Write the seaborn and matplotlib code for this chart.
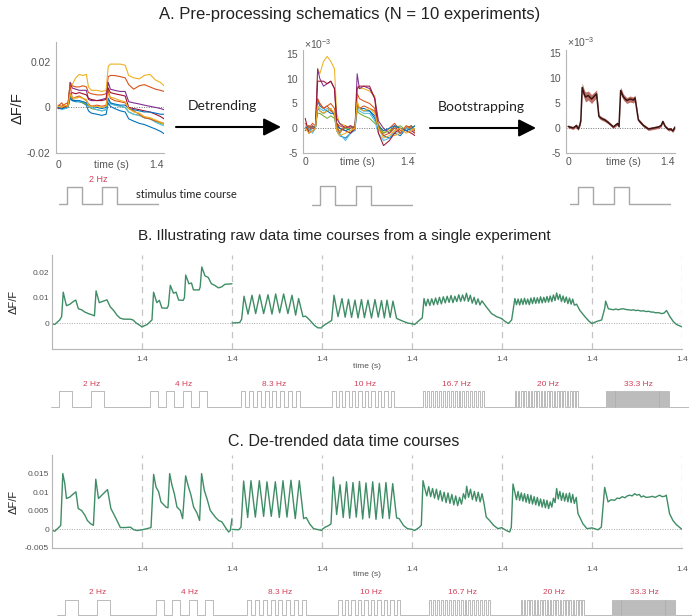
import numpy as np
import matplotlib
matplotlib.use("Agg")
import matplotlib.pyplot as plt
import seaborn as sns

sns.set_theme(style="white")
plt.rcParams['font.family'] = ['Liberation Sans', 'DejaVu Sans']
plt.rcParams['mathtext.fontset'] = 'custom'
plt.rcParams['mathtext.rm'] = 'Liberation Sans'

# ------------------------------------------------------------------ DATA
# Panel A: common time grid (s) and 10 experiments (values x 1e-3)
tA = [0, .05, .10, .14, .17, .20, .25, .30, .35, .40, .43, .47, .55, .62, .68,
      .71, .74, .80, .88, .95, 1.0, 1.07, 1.15, 1.22, 1.30, 1.38, 1.45, 1.50]

raw_blue1 = [-0.5, 0, -0.5, 0, 5, 3, 2.5, 2.5, 2, 1, -1.5, -2.5, -3, -3.5, -3, 2, 0.5, -0.5, -1.5, -2, -5, -6, -7, -7.5, -8.5, -9.5, -10.5, -11.5]
raw_orange1 = [1, 0.5, 1.5, 2, 9, 9.5, 9, 9, 9.5, 9, 6.5, 6, 5.5, 5.5, 6, 13.5, 14, 14, 13.5, 13, 10, 8, 9.5, 10, 9, 8, 7.5, 7]
raw_yellow1 = [0, -0.5, 0.5, 1, 11, 10, 13, 14.5, 14, 14.5, 9, 7.5, 7.5, 7, 7.5, 18, 19, 19, 19, 18.5, 14, 13, 12.5, 14, 14.5, 12, 11, 9.5]
raw_purple = [0, -0.5, 0, 0.5, 11, 8.5, 8, 7.5, 7.5, 7.5, 3.5, 3, 3, 3.5, 4, 11, 8, 7.5, 7, 7, 2.5, 2, 1.5, 1, 0.5, 0, -0.5, -1]
raw_green = [-0.5, -0.5, 0, 0, 5, 3.5, 3, 2.5, 2, 1.5, 0.5, -0.5, -1, -1.5, -1, 4, 2, 1, 0.5, 0, -2, -3, -3.5, -4.5, -5, -6, -7, -7.5]
raw_lightblue = [0, -1, -0.5, 0, 4, 3, 3, 2.5, 2.5, 2, 0.5, 0, -1, -1.5, -1, 3.5, 1.5, 1, 0.5, 0, -2, -3, -3.5, -4.5, -5, -6.5, -7.5, -8]
raw_darkred = [-0.5, 0, 0.5, 0.5, 6, 6.5, 6, 6.5, 6, 5.5, 4, 3.5, 3, 3, 3.5, 8.5, 6.5, 6, 5.5, 5, 0, -0.5, -1, -1.5, -2, -3, -4, -5]
raw_blue2 = [0, -0.5, 0, 0.5, 4, 3, 3, 3, 2.5, 2, 1, 0.5, 0, -0.5, 0, 4, 2, 1.5, 1, 1, -0.5, -1, -1.5, -2, -2, -2.5, -3, -3]
raw_orange2 = [0.5, 2, 0, 1, 10, 4, 4.5, 5, 4, 3, 1.5, 0.5, 1, 0.5, 1, 7.5, 4, 3, 2.5, 2, -0.5, -1.5, -3, -4.5, -5, -6, -6.5, -7]
raw_yellow2 = [0.5, 0, 1, 0.5, 6, 4.5, 4, 4.5, 4, 3.5, 1, 0.5, 0.5, 0, 0.5, 6, 4.5, 4, 3, 2.5, -0.5, -2, -2.5, -4, -4.5, -5.5, -6.5, -7.5]

det_blue1 = [0, -0.5, 0, 0.5, 5.5, 4.5, 4, 3.5, 4, 2.5, -0.5, -1.5, -2, -1, 0, 5, 4, 3.5, 3.5, 2, 0, -1.5, -2, -1, -1.5, 0, 0.5, -0.5]
det_orange1 = [1, 0, 1, 0.5, 6, 5, 4, 4.5, 5, 4, 1, 0.5, 0, 0.5, -0.5, 7, 6, 5.5, 5, 4, 0.5, -1, 0, 1, -0.5, 0, 0.5, -0.5]
det_yellow1 = [0.5, -1, 0.5, 0, 12, 11, 13.5, 14.5, 13.5, 12, 3, 1, 0.5, -0.5, 0, 8.5, 8, 8, 7.5, 6.5, 1, -1, 0, -1.5, -1, 0.5, -0.5, 0]
det_purple = [0, -0.5, 0.5, 0, 12, 10, 8.5, 9, 9.5, 8, 2, 1, 0, 0.5, 0, 11, 8, 8.5, 8, 6, 1.5, 0, -1, 0.5, -1, 0, -0.5, -1]
det_green = [0, -0.5, 0, 0.5, 3, 3, 2.5, 2, 2.5, 2, 0, -0.5, 0, -0.5, 0, 3.5, 3, 2.5, 2, 1, 0.5, -1, -0.5, 0, 0.5, -0.5, 0, 0.5]
det_lightblue = [-0.5, 0, -1, 0, 4.5, 4, 3.5, 4, 3.5, 3, 0, -1, -2.5, -1, -0.5, 4, 3.5, 3, 3, 1.5, -1, -2.5, -2, -0.5, -1, 0, -0.5, 0]
det_darkred = [2, -1, -0.5, 0, 9.5, 9.5, 9.5, 9, 9.5, 8, 1, 0, -0.5, -1, 0, 8, 8.5, 8.5, 8.5, 6, -1, -3.5, -2.5, -1, 0, -0.5, -1, -1.5]
det_blue2 = [0, 0.5, 0, 0, 4, 3.5, 3, 3.5, 3, 3, 0.5, 0, -0.5, 0, 0.5, 4.5, 4, 4, 3.5, 2.5, 0.5, -0.5, 0, 0.5, 0, -0.5, 0, 0.5]
det_orange2 = [-0.5, 0.5, 0, 0, 5.5, 5, 4, 4.5, 3.5, 3, 0.5, -1, 0.5, 0, 0.5, 5, 4, 4.5, 4, 3.5, 0, -1.5, -1, 0, -1, 0.5, 0, -1]
det_yellow2 = [0, -1, -0.5, 0, 4.5, 3.5, 3, 3.5, 4, 3, -0.5, -1.5, -1, -0.5, 0, 5.5, 4, 3.5, 4, 3, 0, -2, -1.5, -0.5, 0, -1, -0.5, 0]

exp_colors = ['#0072BD', '#D95319', '#EDB120', '#7E2F8E', '#77AC30',
              '#4DBEEE', '#A2142F', '#0072BD', '#D95319', '#EDB120']

# bootstrap mean (x 1e-3) and half-width of band
boot_t = [0, 0.07, 0.117, 0.141, 0.164, 0.178, 0.197, 0.225, 0.244, 0.282,
          0.329, 0.376, 0.399, 0.432, 0.47, 0.517, 0.564, 0.611, 0.634, 0.667,
          0.695, 0.714, 0.737, 0.775, 0.822, 0.869, 0.916, 0.939, 0.986, 1.057,
          1.127, 1.198, 1.268, 1.306, 1.329, 1.362, 1.409, 1.44, 1.47, 1.5]
boot_mean = [0.3, 0, 0.5, -0.2, 0.6, 1.5, 8.1, 6.8, 6.2, 6.5,
             5.8, 6.5, 6.8, 2.3, 1.9, 1.6, 1.1, 0.5, 0.2, 0.6,
             0.9, 0.3, 7.5, 6.2, 5.5, 5.8, 5.6, 6.0, 1.6, 0.5,
             -0.2, 0, 0.2, 0.5, 1.3, 0.3, -0.3, -0.2, -0.6, 0.2]
boot_ci = [0.3, 0.3, 0.3, 0.3, 0.3, 0.4, 0.9, 0.9, 1.0, 0.9,
           0.9, 0.8, 0.8, 0.4, 0.35, 0.35, 0.3, 0.3, 0.3, 0.3,
           0.3, 0.35, 0.7, 0.6, 0.6, 0.6, 0.6, 0.6, 0.35, 0.3,
           0.3, 0.3, 0.3, 0.3, 0.3, 0.3, 0.3, 0.3, 0.3, 0.3]

# Panel B: raw time courses per stimulus frequency (t in s, value x 1e-3)
raw_2hz_t = [0, 0.04, 0.12, 0.15, 0.175, 0.2, 0.225, 0.28, 0.34, 0.37, 0.41, 0.46, 0.51, 0.565, 0.635, 0.66, 0.686, 0.735, 0.8, 0.855, 0.905, 0.96, 1.01, 1.06, 1.12, 1.22, 1.26, 1.31, 1.37, 1.4]
raw_2hz_v = [-0.2, -0.6, 1.2, 2.5, 12.1, 9.3, 6.8, 7.4, 8.6, 9.0, 5.6, 5.2, 4.3, 3.7, 3.1, 2.8, 12.6, 8.0, 8.6, 9.1, 6.4, 4.9, 3.1, 1.9, 1.5, 1.5, 1.2, 0.0, -1.0, -1.5]
raw_4hz_t = [0, 0.08, 0.13, 0.155, 0.18, 0.23, 0.27, 0.31, 0.39, 0.41, 0.44, 0.49, 0.53, 0.57, 0.64, 0.66, 0.68, 0.73, 0.77, 0.8, 0.89, 0.905, 0.93, 0.98, 1.03, 1.08, 1.13, 1.19, 1.24, 1.29, 1.4]
raw_4hz_v = [-1.5, -0.6, 0.6, 1.2, 12.1, 8.0, 8.9, 5.9, 5.8, 6.8, 14.8, 11.7, 12.1, 9.0, 8.9, 9.9, 18.8, 15.4, 15.7, 13.0, 13.0, 14.2, 22.0, 18.5, 17.9, 15.4, 14.8, 13.8, 14.2, 15.2, 15.4]
raw_8hz_t = [0, 0.12, 0.15, 0.187, 0.249, 0.311, 0.368, 0.43, 0.492, 0.56, 0.622, 0.679, 0.741, 0.803, 0.87, 0.933, 0.99, 1.036, 1.104, 1.145, 1.207, 1.285, 1.337, 1.4]
raw_8hz_v = [0.0, 0.2, 1.5, 10.5, 3.5, 10.9, 3.7, 11.1, 3.7, 11.1, 3.5, 11.4, 4.0, 11.4, 3.7, 10.9, 3.1, 9.6, 2.5, 2.7, 1.2, -1.0, -1.9, -1.9]
raw_10hz_t = [0, 0.05, 0.1, 0.15, 0.187, 0.249, 0.311, 0.36, 0.412, 0.46, 0.513, 0.56, 0.614, 0.66, 0.715, 0.77, 0.824, 0.875, 0.925, 0.97, 1.011, 1.06, 1.104, 1.16, 1.25, 1.33, 1.4]
raw_10hz_v = [-1.5, -0.6, 0.2, 1.0, 10.9, 2.5, 9.6, 2.3, 9.3, 2.2, 9.0, 2.0, 9.2, 2.1, 9.0, 2.0, 9.2, 2.3, 8.8, 2.0, 9.0, 2.2, 8.6, 1.8, 0.8, 0.0, -0.3]
raw_17hz_t = [0, 0.04, 0.12, 0.16, 0.187, 0.217, 0.247, 0.277, 0.307, 0.337, 0.367, 0.397, 0.427, 0.457, 0.487, 0.517, 0.547, 0.577, 0.607, 0.637, 0.667, 0.697, 0.727, 0.757, 0.787, 0.817, 0.847, 0.877, 0.907, 0.937, 0.967, 0.997, 1.027, 1.057, 1.087, 1.16, 1.238, 1.316, 1.4]
raw_17hz_v = [-0.2, -0.6, 1.2, 2.0, 9.6, 6.7, 9.4, 6.9, 9.5, 7.1, 9.8, 7.3, 10.1, 7.5, 10.3, 7.9, 10.5, 8.1, 10.8, 8.0, 10.5, 8.4, 11.1, 8.5, 11.0, 8.7, 11.7, 8.5, 10.9, 7.8, 10.1, 7.3, 9.5, 7.1, 8.7, 6.2, 3.7, 2.5, 1.7]
raw_20hz_t = [0, 0.05, 0.1, 0.15, 0.2, 0.225, 0.25, 0.275, 0.3, 0.325, 0.35, 0.375, 0.4, 0.425, 0.45, 0.475, 0.5, 0.525, 0.55, 0.575, 0.6, 0.625, 0.65, 0.675, 0.7, 0.725, 0.75, 0.775, 0.8, 0.825, 0.85, 0.875, 0.9, 0.925, 0.95, 0.975, 1.0, 1.025, 1.05, 1.075, 1.1, 1.125, 1.16, 1.212, 1.29, 1.358, 1.4]
raw_20hz_v = [1.6, 0.6, -0.2, 1.2, 9.6, 7.2, 9.4, 7.1, 9.5, 7.3, 9.7, 7.4, 9.4, 7.2, 9.8, 7.6, 10.0, 7.7, 9.9, 7.8, 10.3, 7.9, 10.1, 8.1, 10.4, 8.2, 10.6, 8.4, 11.0, 8.8, 11.8, 9.2, 11.2, 8.4, 10.6, 8.1, 10.2, 7.6, 9.8, 7.4, 9.4, 7.0, 7.4, 4.9, 2.5, 0.6, -0.2]
raw_33hz_t = [0, 0.073, 0.15, 0.2, 0.212, 0.254, 0.29, 0.332, 0.37, 0.41, 0.45, 0.487, 0.53, 0.57, 0.61, 0.642, 0.68, 0.72, 0.76, 0.8, 0.84, 0.88, 0.92, 0.953, 0.99, 1.03, 1.083, 1.12, 1.16, 1.212, 1.264, 1.316, 1.4]
raw_33hz_v = [-0.2, 0.6, 1.2, 6.0, 8.6, 5.6, 5.4, 5.2, 5.5, 5.2, 5.5, 5.6, 5.3, 5.2, 5.0, 5.2, 4.9, 5.0, 4.7, 4.8, 4.5, 4.6, 4.3, 4.3, 4.0, 4.1, 3.7, 3.9, 4.9, 2.5, 0.6, -0.6, -1.5]

# Panel C: de-trended time courses (t in s, value x 1e-3)
det_2hz_t = [0, 0.016, 0.042, 0.11, 0.136, 0.168, 0.199, 0.225, 0.277, 0.33, 0.372, 0.408, 0.46, 0.513, 0.55, 0.602, 0.644, 0.681, 0.723, 0.775, 0.827, 0.864, 0.916, 0.958, 1.01, 1.063, 1.141, 1.22, 1.272, 1.325, 1.4]
det_2hz_v = [0, -0.3, -0.5, 0.6, 1.1, 15.0, 12.3, 8.3, 8.7, 9.5, 10.1, 5.6, 5.1, 3.8, 2.4, 1.5, 1.1, 13.5, 8.3, 9.2, 10.1, 10.7, 5.6, 4.2, 2.4, 0.5, 0.5, 0.6, -0.1, -0.3, -0.1]
det_4hz_t = [0, 0.078, 0.14, 0.181, 0.218, 0.259, 0.295, 0.373, 0.404, 0.43, 0.466, 0.503, 0.544, 0.596, 0.632, 0.679, 0.715, 0.762, 0.803, 0.855, 0.896, 0.927, 0.969, 1.01, 1.062, 1.14, 1.192, 1.244, 1.295, 1.347, 1.373, 1.4]
det_4hz_v = [-0.1, 0.2, 0.5, 14.8, 11.4, 10.1, 7.4, 6.0, 5.8, 15.0, 11.9, 9.6, 6.0, 5.1, 2.9, 14.4, 11.9, 9.2, 6.0, 4.4, 2.4, 15.0, 10.5, 8.3, 5.1, 3.3, 2.4, 2.0, 0.6, -0.7, -0.3, 2.9]
det_8hz_t = [0, 0.104, 0.14, 0.181, 0.244, 0.295, 0.363, 0.425, 0.492, 0.544, 0.611, 0.674, 0.736, 0.793, 0.855, 0.917, 0.984, 1.047, 1.114, 1.155, 1.207, 1.269, 1.347, 1.4]
det_8hz_v = [0, -0.1, 0.6, 13.0, 3.2, 13.1, 3.3, 13.1, 3.5, 12.8, 3.5, 12.8, 3.2, 13.1, 3.3, 13.2, 2.9, 13.1, 2.9, 3.2, 1.5, 0.2, -0.1, -0.3]
det_10hz_t = [0, 0.05, 0.1, 0.14, 0.176, 0.228, 0.28, 0.33, 0.381, 0.43, 0.482, 0.533, 0.583, 0.633, 0.684, 0.737, 0.789, 0.84, 0.892, 0.943, 0.995, 1.047, 1.1, 1.16, 1.2, 1.27, 1.33, 1.4]
det_10hz_v = [0.0, 0.6, 1.0, 1.5, 14.1, 4.0, 12.0, 3.2, 12.8, 3.0, 12.6, 3.3, 12.9, 2.8, 12.5, 3.1, 12.8, 2.7, 12.4, 3.0, 12.6, 2.9, 12.3, 3.1, 2.9, 1.0, 0.2, 0.0]
det_17hz_t = [0, 0.04, 0.11, 0.145, 0.171, 0.2, 0.23, 0.26, 0.29, 0.32, 0.35, 0.38, 0.41, 0.44, 0.47, 0.5, 0.53, 0.56, 0.59, 0.62, 0.65, 0.68, 0.71, 0.74, 0.77, 0.8, 0.83, 0.85, 0.88, 0.91, 0.94, 0.97, 1.0, 1.03, 1.06, 1.09, 1.12, 1.155, 1.207, 1.269, 1.337, 1.4]
det_17hz_v = [0, -0.3, 0.5, 1.1, 13.1, 11.0, 9.0, 11.5, 8.8, 11.0, 8.4, 10.8, 8.0, 10.4, 7.6, 10.0, 7.2, 9.8, 7.0, 9.4, 6.6, 9.0, 6.4, 8.6, 6.8, 9.6, 8.2, 11.6, 8.6, 10.8, 8.0, 10.2, 7.6, 10.0, 7.4, 9.6, 7.0, 3.3, 2.4, 1.1, 0.2, 0.5]
det_20hz_t = [0, 0.067, 0.119, 0.145, 0.171, 0.2, 0.225, 0.25, 0.275, 0.3, 0.325, 0.35, 0.375, 0.4, 0.425, 0.45, 0.475, 0.5, 0.525, 0.55, 0.575, 0.6, 0.625, 0.65, 0.675, 0.7, 0.725, 0.75, 0.775, 0.8, 0.825, 0.85, 0.875, 0.9, 0.925, 0.95, 0.975, 1.0, 1.025, 1.05, 1.075, 1.1, 1.125, 1.155, 1.181, 1.259, 1.321, 1.4]
det_20hz_v = [0.4, -0.3, -0.7, 0.6, 12.2, 10.0, 8.0, 10.2, 7.8, 9.8, 7.6, 9.6, 7.3, 9.4, 7.0, 9.2, 6.8, 8.8, 6.6, 8.6, 6.3, 8.2, 6.0, 8.0, 5.8, 7.8, 5.6, 7.4, 6.0, 8.4, 7.2, 11.0, 8.2, 10.2, 7.8, 9.8, 7.6, 9.6, 7.4, 9.8, 7.2, 9.4, 7.0, 8.6, 4.3, 1.5, 0.2, 0.4]
det_33hz_t = [0, 0.093, 0.145, 0.197, 0.249, 0.3, 0.35, 0.39, 0.43, 0.47, 0.51, 0.55, 0.585, 0.625, 0.663, 0.7, 0.735, 0.767, 0.8, 0.84, 0.896, 0.94, 0.98, 1.052, 1.09, 1.13, 1.155, 1.207, 1.259, 1.311, 1.4]
det_33hz_v = [0.4, -0.1, 0.6, 11.3, 7.4, 8.0, 7.8, 8.4, 8.3, 8.8, 8.5, 9.0, 9.2, 9.0, 9.6, 9.2, 9.4, 8.7, 9.0, 8.6, 8.7, 8.9, 8.6, 9.2, 8.8, 8.9, 9.2, 4.2, 2.4, 1.3, 0.0]

# Stimulus schematics
stim_labels = ['2 Hz', '4 Hz', '8.3 Hz', '10 Hz', '16.7 Hz', '20 Hz', '33.3 Hz']
stim_freq_hz = [2, 4, 8.3, 10, 16.7, 20, 33.3]
stim_n_pulses = [2, 4, 8, 10, 16, 20, 33]
stim_width_s = [0.2, 0.125, 0.06, 0.05, 0.03, 0.025, 0.015]
stim_onset_s = 0.12
seg_len_s = 1.4

# ------------------------------------------------------------------ FIGURE
W, H = 692, 616
fig = plt.figure(figsize=(W / 100, H / 100), dpi=100)
fig.patch.set_facecolor('white')

GREEN = '#3f8d66'
GRAY = '#a8a8a8'
TICKC = '#555555'
RED = '#d2405a'


def px_axes(x0, y0, x1, y1):
    ax = fig.add_axes([x0 / W, 1 - y1 / H, (x1 - x0) / W, (y1 - y0) / H])
    ax.set_facecolor('none')
    return ax


def line(ax, t, v, color, lw=1.0, scale=1.0, offset=0.0, zorder=2):
    n = min(len(t), len(v))
    sns.lineplot(x=np.asarray(t[:n], float) + offset,
                 y=np.asarray(v[:n], float) * scale, ax=ax, color=color,
                 linewidth=lw, estimator=None, sort=False, legend=False,
                 errorbar=None, zorder=zorder)


def style(ax, labelsize):
    for s in ['top', 'right']:
        ax.spines[s].set_visible(False)
    for s in ['left', 'bottom']:
        ax.spines[s].set_color('#b5b5b5')
        ax.spines[s].set_linewidth(0.8)
    ax.tick_params(axis='both', direction='in', length=2.5, width=0.6,
                   color='#b5b5b5', labelcolor=TICKC, labelsize=labelsize)
    ax.set_xlabel('')
    ax.set_ylabel('')


def stim_xy(idx, seg_len, onset, widths):
    xs, ys = [0.0], [0.0]
    for j, i in enumerate(idx):
        base = j * seg_len
        for k in range(stim_n_pulses[i]):
            on = base + onset + k / stim_freq_hz[i]
            off = on + widths[i]
            xs += [on, on, off, off]
            ys += [0, 1, 1, 0]
    xs.append(len(idx) * seg_len)
    ys.append(0)
    return xs, ys


# ---------------- Panel A
raw_all = [raw_blue1, raw_orange1, raw_yellow1, raw_purple, raw_green,
           raw_lightblue, raw_darkred, raw_blue2, raw_orange2, raw_yellow2]
det_all = [det_blue1, det_orange1, det_yellow1, det_purple, det_green,
           det_lightblue, det_darkred, det_blue2, det_orange2, det_yellow2]

axA1 = px_axes(56, 42, 164, 153)
for c, v in zip(exp_colors, raw_all):
    line(axA1, tA, v, c, lw=0.8, scale=1e-3)
axA1.axhline(0, color='#777777', ls=(0, (1, 1.5)), lw=0.7, zorder=1)
axA1.set_xlim(-0.03, 1.5)
axA1.set_ylim(-0.02, 0.0287)
style(axA1, 7.5)
axA1.set_yticks([-0.02, 0, 0.02], ['-0.02', '0', '0.02'])
axA1.set_xticks([0, 1.4], ['0', '1.4'])
axA1.tick_params(axis='x', length=0, pad=5)
axA1.tick_params(axis='y', pad=4)

axA2 = px_axes(303, 50, 415, 153)
for c, v in zip(exp_colors, det_all):
    line(axA2, tA, v, c, lw=0.75)
axA2.axhline(0, color='#777777', ls=(0, (1, 1.5)), lw=0.7, zorder=1)
axA2.set_xlim(-0.03, 1.5)
axA2.set_ylim(-5, 15.8)
style(axA2, 7.5)
axA2.set_yticks([-5, 0, 5, 10, 15], ['-5', '0', '5', '10', '15'])
axA2.set_xticks([0, 1.4], ['0', '1.4'])
axA2.tick_params(axis='x', length=0, pad=3)
axA2.tick_params(axis='y', pad=4)

axA3 = px_axes(566, 50, 675, 153)
lo = [m - c for m, c in zip(boot_mean, boot_ci)]
hi = [m + c for m, c in zip(boot_mean, boot_ci)]
axA3.fill_between(boot_t, lo, hi, color='#b4574f', alpha=0.85, lw=0, zorder=2)
line(axA3, boot_t, boot_mean, '#3a1412', lw=1.1, zorder=3)
axA3.axhline(0, color='#777777', ls=(0, (1, 1.5)), lw=0.7, zorder=1)
axA3.set_xlim(-0.03, 1.5)
axA3.set_ylim(-5, 15.6)
style(axA3, 7.5)
axA3.set_yticks([-5, 0, 5, 10, 15], ['-5', '0', '5', '10', '15'])
axA3.set_xticks([0, 1.4], ['0', '1.4'])
axA3.tick_params(axis='x', length=0, pad=3)
axA3.tick_params(axis='y', pad=4)

# A stimulus rows (2 Hz, one segment of 1.43 s)
A_stim_w = [0.21, 0.125, 0.06, 0.05, 0.03, 0.025, 0.015]
for (x0, x1, yb, yt) in [(59, 159, 204, 187), (312, 413, 205, 186), (570, 671, 204, 187)]:
    u = yb - yt
    ax = px_axes(x0, yt - 2, x1, yb + 2)
    xs, ys = stim_xy([0], 1.43, stim_onset_s, A_stim_w)
    line(ax, xs, ys, GRAY, lw=1.0)
    ax.set_xlim(0, 1.43)
    ax.set_ylim(-2 / u, 1 + 2 / u)
    ax.axis('off')

# ---------------- Panels B and C
raw_t = [raw_2hz_t, raw_4hz_t, raw_8hz_t, raw_10hz_t, raw_17hz_t, raw_20hz_t, raw_33hz_t]
raw_v = [raw_2hz_v, raw_4hz_v, raw_8hz_v, raw_10hz_v, raw_17hz_v, raw_20hz_v, raw_33hz_v]
det_t = [det_2hz_t, det_4hz_t, det_8hz_t, det_10hz_t, det_17hz_t, det_20hz_t, det_33hz_t]
det_v = [det_2hz_v, det_4hz_v, det_8hz_v, det_10hz_v, det_17hz_v, det_20hz_v, det_33hz_v]

bounds = [seg_len_s * k for k in range(1, 8)]


def long_panel(box, ts, vs, ylim, yticks, ylabels, xpad):
    ax = px_axes(*box)
    for i, (t, v) in enumerate(zip(ts, vs)):
        line(ax, t, v, GREEN, lw=1.0, scale=1e-3, offset=seg_len_s * i)
    ax.axhline(0, color='#aaaaaa', ls=(0, (1, 1.5)), lw=0.7, zorder=1)
    for b in bounds:
        ax.axvline(b, color='#c4c4c4', ls=(0, (5, 4)), lw=0.9, zorder=1)
    ax.set_xlim(0, 7 * seg_len_s)
    ax.set_ylim(*ylim)
    style(ax, 6)
    ax.set_yticks(yticks, ylabels)
    ax.set_xticks(bounds, ['1.4'] * 7)
    ax.tick_params(axis='x', length=0, pad=xpad)
    ax.tick_params(axis='y', pad=2)
    return ax


axB = long_panel((52, 255, 682, 349), raw_t, raw_v, (-0.0102, 0.0267),
                 [0, 0.01, 0.02], ['0', '0.01', '0.02'], 5)
axC = long_panel((52, 455, 682, 548), det_t, det_v, (-0.005, 0.020),
                 [-0.005, 0, 0.005, 0.01, 0.015],
                 ['-0.005', '0', '0.005', '0.01', '0.015'], 13)

# B and C stimulus rows
for (x0, yb, yt, ylab) in [(51, 407, 391, 384), (57, 615, 600, 593)]:
    u = yb - yt
    x1 = x0 + 7 * 91.15
    ax = px_axes(x0, yt - 2, x1, yb + 2)
    xs, ys = stim_xy(list(range(7)), seg_len_s, stim_onset_s, stim_width_s)
    line(ax, xs, ys, '#b0b0b0', lw=0.6)
    ax.set_xlim(0, 7 * seg_len_s)
    ax.set_ylim(-2 / u, 1 + 2 / u)
    ax.axis('off')
    for i, lab in enumerate(stim_labels):
        ax.text(seg_len_s * i + 0.63, (yb - ylab) / u, lab, color=RED,
                fontsize=6, ha='center', va='center', clip_on=False)

# ---------------- overlay texts and arrows (pixel coordinates)
ov = fig.add_axes([0, 0, 1, 1])
ov.set_xlim(0, W)
ov.set_ylim(H, 0)
ov.axis('off')
ov.set_facecolor('none')

TXT = '#222222'
ov.text(350, 14, 'A. Pre-processing schematics (N = 10 experiments)',
        fontsize=12, ha='center', va='center', color=TXT)
ov.text(344, 236, 'B. Illustrating raw data time courses from a single experiment',
        fontsize=11, ha='center', va='center', color=TXT)
ov.text(344, 441, 'C. De-trended data time courses',
        fontsize=11.5, ha='center', va='center', color=TXT)

ov.text(18, 108, 'ΔF/F', fontsize=10.5, rotation=90, ha='center', va='center', color=TXT)
ov.text(14, 302, 'ΔF/F', fontsize=8, rotation=90, ha='center', va='center', color=TXT)
ov.text(14, 502, 'ΔF/F', fontsize=8, rotation=90, ha='center', va='center', color=TXT)

for (x, y) in [(111, 165), (357, 162), (623, 162)]:
    ov.text(x, y, 'time (s)', fontsize=7.5, ha='center', va='center', color=TICKC)
for y in [367, 575]:
    ov.text(367, y, 'time (s)', fontsize=6, ha='center', va='center', color=TICKC)

ov.text(304, 44, r'$\times10^{-3}$', fontsize=7.5, ha='left', va='center', color=TICKC)
ov.text(567, 42, r'$\times10^{-3}$', fontsize=7.5, ha='left', va='center', color=TICKC)

ov.text(98, 180, '2 Hz', fontsize=6.5, color=RED, ha='center', va='center')
ov.text(136, 195, 'stimulus time course', fontsize=8, color=TXT, ha='left',
        va='center', family=['Lato', 'DejaVu Sans'])

ov.text(222, 106, 'Detrending', fontsize=10, color=TXT, ha='center', va='center',
        family=['Lato', 'DejaVu Sans'])
ov.text(481, 107, 'Bootstrapping', fontsize=10, color=TXT, ha='center', va='center',
        family=['Lato', 'DejaVu Sans'])
for (xa, xb, y) in [(176, 281, 127), (430, 536, 128)]:
    ov.annotate('', xy=(xb, y), xytext=(xa, y),
                arrowprops=dict(arrowstyle='-|>,head_length=0.75,head_width=0.38',
                                color='black', lw=1.5, mutation_scale=14,
                                shrinkA=0, shrinkB=0))

fig.savefig('out.png', dpi=100, facecolor='white')
